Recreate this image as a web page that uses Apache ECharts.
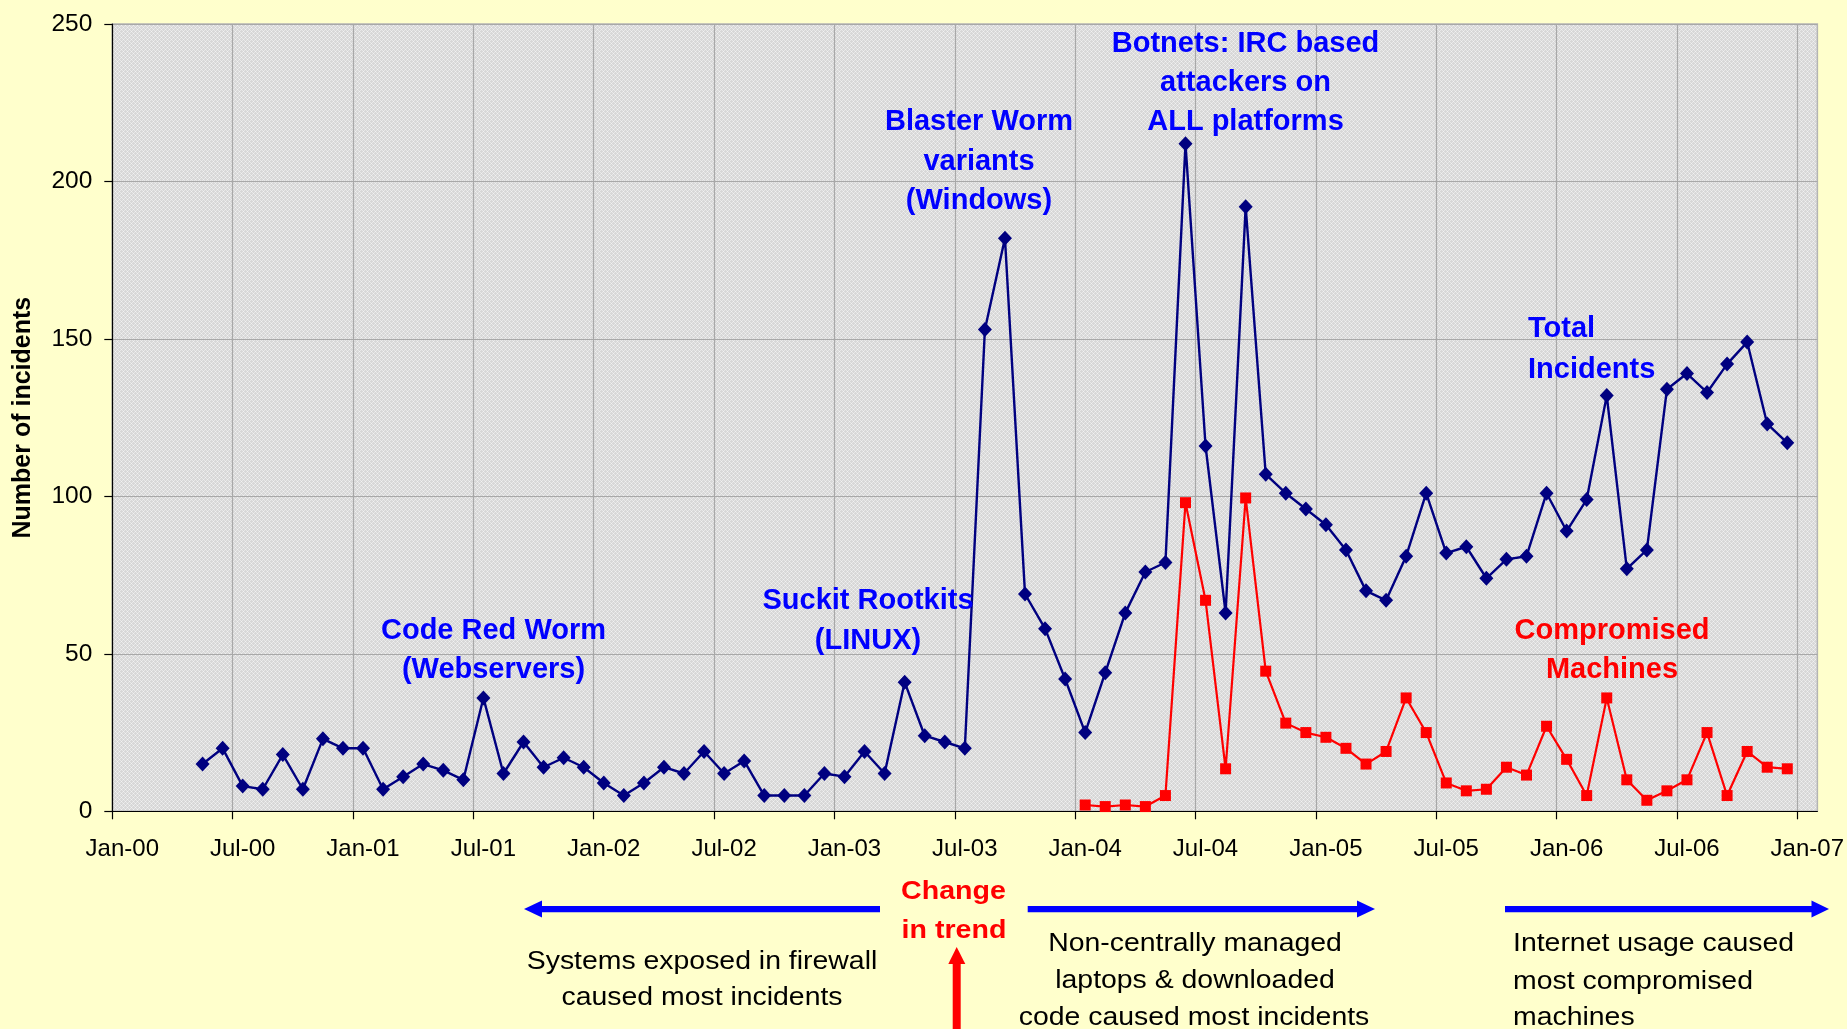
<!DOCTYPE html>
<html><head><meta charset="utf-8">
<script src="https://cdn.jsdelivr.net/npm/echarts@6/dist/echarts.min.js"></script>
<style>html,body{margin:0;padding:0;background:#FFFFCC;}#c{width:1847px;height:1029px;}</style>
</head><body><div id="c"></div>
<script>
// ---- data ----
const totalMonths = [
 '2000-05','2000-06','2000-07','2000-08','2000-09','2000-10','2000-11','2000-12',
 '2001-01','2001-02','2001-03','2001-04','2001-05','2001-06','2001-07','2001-08','2001-09','2001-10','2001-11','2001-12',
 '2002-01','2002-02','2002-03','2002-04','2002-05','2002-06','2002-07','2002-08','2002-09','2002-10','2002-11','2002-12',
 '2003-01','2003-02','2003-03','2003-04','2003-05','2003-06','2003-07','2003-08','2003-09','2003-10','2003-11','2003-12',
 '2004-01','2004-02','2004-03','2004-04','2004-05','2004-06','2004-07','2004-08','2004-09','2004-10','2004-11','2004-12',
 '2005-01','2005-02','2005-03','2005-04','2005-05','2005-06','2005-07','2005-08','2005-09','2005-10','2005-11','2005-12',
 '2006-01','2006-02','2006-03','2006-04','2006-05','2006-06','2006-07','2006-08','2006-09','2006-10','2006-11','2006-12'
];
const totalIncidents = [
 15,20,8,7,18,7,23,20,
 20,7,11,15,13,10,36,12,22,14,17,14,
 9,5,9,14,12,19,12,16,5,5,5,12,
 11,19,12,41,24,22,20,153,182,69,58,42,
 25,44,63,76,79,212,116,63,192,107,101,96,
 91,83,70,67,81,101,82,84,74,80,81,101,
 89,99,132,77,83,134,139,133,142,149,123,117
];
const compromisedMonths = [
 '2004-01','2004-02','2004-03','2004-04','2004-05','2004-06','2004-07','2004-08','2004-09','2004-10','2004-11','2004-12',
 '2005-01','2005-02','2005-03','2005-04','2005-05','2005-06','2005-07','2005-08','2005-09','2005-10','2005-11','2005-12',
 '2006-01','2006-02','2006-03','2006-04','2006-05','2006-06','2006-07','2006-08','2006-09','2006-10','2006-11','2006-12'
];
const compromisedMachines = [
 2,1.5,2,1.5,5,98,67,13.5,99.5,44.5,28,25,
 23.5,20,15,19,36,25,9,6.5,7,14,11.5,27,
 16.5,5,36,10,3.5,6.5,10,25,5,19,14,13.5
];
const xTickLabels = ['Jan-00','Jul-00','Jan-01','Jul-01','Jan-02','Jul-02','Jan-03','Jul-03','Jan-04','Jul-04','Jan-05','Jul-05','Jan-06','Jul-06','Jan-07'];
const yTicks = [0,50,100,150,200,250];

// ---- helpers ----
function monthPos(s){ const [y,m]=s.split('-').map(Number); return (y-2000)*12+(m-1)+0.5; }
const totalData = totalMonths.map((m,i)=>[monthPos(m), totalIncidents[i]]);
const compData = compromisedMonths.map((m,i)=>[monthPos(m), compromisedMachines[i]]);

const pc = document.createElement('canvas'); pc.width=4; pc.height=4;
const g = pc.getContext('2d');
g.fillStyle='#D7D7D7'; g.fillRect(0,0,4,4);
g.fillStyle='#E7E7E7'; g.fillRect(0,0,1,1); g.fillRect(2,0,1,1); g.fillRect(0,2,1,1); g.fillRect(2,2,1,1);
g.fillStyle='#F2F2F2'; g.fillRect(1,1,1,1); g.fillRect(3,3,1,1);

const FF = '"Liberation Sans", Arial, sans-serif';
const DY = 3.5;
function txt(t, x, y, color, size, opts){
  opts = opts || {};
  return { type:'text', x:x, y:y+DY, scaleX: opts.sx || 1, z: 100,
    style:{ text:t, fill:color, font:(opts.bold===false?'':'bold ')+size+'px '+FF,
      textAlign: opts.align || 'center', textVerticalAlign:'middle' } };
}
const BLUE='#0000FF', RED='#FF0000';
const graphics = [
  txt('Code Red Worm',493.5,627,BLUE,29), txt('(Webservers)',493.5,666,BLUE,29),
  txt('Suckit Rootkits',868,597,BLUE,29), txt('(LINUX)',868,637,BLUE,29),
  txt('Blaster Worm',979,118,BLUE,29), txt('variants',979,158,BLUE,29), txt('(Windows)',979,197.5,BLUE,29),
  txt('Botnets: IRC based',1245.5,40.4,BLUE,29), txt('attackers on',1245.5,79.7,BLUE,29), txt('ALL platforms',1245.5,118,BLUE,29),
  txt('Total',1528,325.5,BLUE,29,{align:'left'}), txt('Incidents',1528,366,BLUE,29,{align:'left'}),
  txt('Compromised',1612,627,RED,29), txt('Machines',1612,666,RED,29),
  txt('Change',953.5,888.5,RED,26,{sx:1.1}), txt('in trend',954,927.5,RED,26,{sx:1.1}),
  txt('Systems exposed in firewall',702,958.8,'#000',25.6,{bold:false,sx:1.11}),
  txt('caused most incidents',702,994.8,'#000',25.6,{bold:false,sx:1.11}),
  txt('Non-centrally managed',1195,940.8,'#000',25.6,{bold:false,sx:1.11}),
  txt('laptops & downloaded',1195,977.5,'#000',25.6,{bold:false,sx:1.11}),
  txt('code caused most incidents',1194,1014.8,'#000',25.6,{bold:false,sx:1.11}),
  txt('Internet usage caused',1513,940.8,'#000',25.6,{bold:false,sx:1.11,align:'left'}),
  txt('most compromised',1513,978.5,'#000',25.6,{bold:false,sx:1.11,align:'left'}),
  txt('machines',1513,1014.8,'#000',25.6,{bold:false,sx:1.11,align:'left'}),
  // arrows
  {type:'rect', shape:{x:540,y:906,width:340,height:6.3}, style:{fill:BLUE}},
  {type:'polygon', shape:{points:[[524,909],[542,900.5],[542,917.5]]}, style:{fill:BLUE}},
  {type:'rect', shape:{x:1027.7,y:906,width:331,height:6.3}, style:{fill:BLUE}},
  {type:'polygon', shape:{points:[[1375,909],[1357,900.5],[1357,917.5]]}, style:{fill:BLUE}},
  {type:'rect', shape:{x:1505,y:906,width:308,height:6.3}, style:{fill:BLUE}},
  {type:'polygon', shape:{points:[[1829,909],[1811.5,900.5],[1811.5,917.5]]}, style:{fill:BLUE}},
  {type:'rect', shape:{x:952.7,y:962,width:8,height:70}, style:{fill:RED}},
  {type:'polygon', shape:{points:[[956.7,947],[948.3,964],[965.3,964]]}, style:{fill:RED}}
];

const chart = echarts.init(document.getElementById('c'), null, {renderer:'canvas'});
chart.setOption({
  animation:false,
  backgroundColor:'#FFFFCC',
  grid:{ left:112.3, right:28.7, top:24, bottom:217.7, show:true,
    backgroundColor:{image:pc, repeat:'repeat'}, borderColor:'#B4B4B4', borderWidth:1.5 },
  xAxis:{ type:'value', min:0, max:85, interval:6,
    axisLine:{ lineStyle:{ color:'#000', width:1.2 } },
    axisTick:{ show:true, length:8, inside:false, lineStyle:{ color:'#000', width:1.2 },
      customValues:[0,6,12,18,24,30,36,42,48,54,60,66,72,78,84] },
    axisLabel:{ customValues:[0,6,12,18,24,30,36,42,48,54,60,66,72,78,84],
      formatter:(v)=> (v%6===0 ? (xTickLabels[v/6]||'') : ''),
      fontFamily:FF, fontSize:24, color:'#000', margin:26, padding:[0,0,0,20] },
    splitLine:{ show:true, lineStyle:{ color:'#A8A8A8', width:1.2 } }
  },
  yAxis:{ type:'value', min:0, max:250, interval:50,
    name:'Number of incidents', nameLocation:'middle', nameGap:77,
    nameTextStyle:{ fontFamily:FF, fontSize:25, fontWeight:'bold', color:'#000' },
    axisLine:{ show:true, lineStyle:{ color:'#000', width:1.2 } },
    axisTick:{ show:true, length:8, lineStyle:{ color:'#000', width:1.2 } },
    axisLabel:{ fontFamily:FF, fontSize:24.5, color:'#000', margin:20,
      formatter:(v)=> yTicks.indexOf(v)>=0 ? String(v) : '' },
    splitLine:{ show:true, lineStyle:{ color:'#A8A8A8', width:1.2 } }
  },
  series:[
    { name:'Total Incidents', type:'line', data:totalData, showAllSymbol:true,
      symbol:'diamond', symbolSize:[14,15], itemStyle:{ color:'#000080' },
      lineStyle:{ color:'#000080', width:2.4 }, z:3 },
    { name:'Compromised Machines', type:'line', data:compData, showAllSymbol:true,
      symbol:'rect', symbolSize:[11,11], itemStyle:{ color:'#FF0000' },
      lineStyle:{ color:'#FF0000', width:2.2 }, z:4 }
  ],
  graphic: graphics
});
</script></body></html>
